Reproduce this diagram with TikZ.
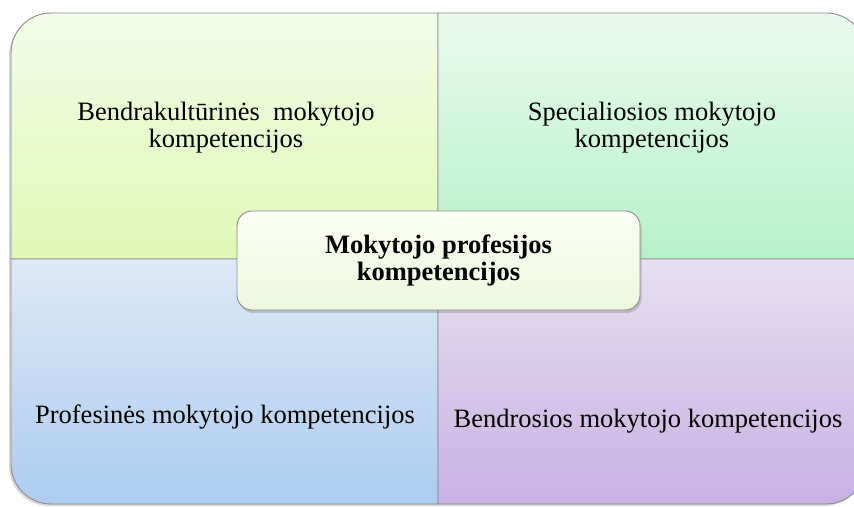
\documentclass[tikz,border=0pt]{standalone}
\usepackage{fontspec}
\setmainfont{Liberation Serif}
\usetikzlibrary{shadows}
\definecolor{tlTop}{HTML}{F3FCE8}
\definecolor{tlBot}{HTML}{E0F7B6}
\definecolor{trTop}{HTML}{E9FAEE}
\definecolor{trBot}{HTML}{B7F1C8}
\definecolor{blTop}{HTML}{DDE9F7}
\definecolor{blBot}{HTML}{ADCCEE}
\definecolor{brTop}{HTML}{E7DFF3}
\definecolor{brBot}{HTML}{C8B1E2}
\definecolor{cTop}{HTML}{FBFEF4}
\definecolor{cBot}{HTML}{EEF8DE}
\definecolor{edge}{HTML}{8C8C8C}
\tikzset{
  quad/.style={draw=edge, line width=0.9pt},
  lbl/.style={font=\fontsize{26.5}{27}\selectfont, align=center, inner sep=0pt, text=black},
  centerbox/.style={draw=edge, line width=0.9pt, rounded corners=15pt, top color=cTop, bottom color=cBot,
     minimum width=403pt, minimum height=99pt, inner sep=0pt,
     font=\bfseries\fontsize{26.5}{27}\selectfont, align=center,
     drop shadow={opacity=0.35, shadow xshift=1.5pt, shadow yshift=-3pt, fill=gray}},
}
\begin{document}
\begin{tikzpicture}[x=1pt,y=1pt]
\clip (0,0) rectangle (854,506);
\fill[white] (0,0) rectangle (854,506);
% outer shadow
\fill[gray, opacity=0.30] (9,43) -- (9,451) arc[start angle=180,end angle=90,radius=40] -- (824,491)
   arc[start angle=90,end angle=0,radius=40] -- (864,40) arc[start angle=0,end angle=-90,radius=40]
   -- (49,0) arc[start angle=270,end angle=180,radius=40] -- cycle;
% quadrants
\path[quad, top color=tlTop, bottom color=tlBot] (11,247) -- (11,453) arc[start angle=180,end angle=90,radius=40] -- (438,493) -- (438,247) -- cycle;
\path[quad, top color=trTop, bottom color=trBot] (438,247) -- (438,493) -- (826,493) arc[start angle=90,end angle=0,radius=40] -- (866,247) -- cycle;
\path[quad, top color=blTop, bottom color=blBot] (11,247) -- (11,42) arc[start angle=180,end angle=270,radius=40] -- (438,2) -- (438,247) -- cycle;
\path[quad, top color=brTop, bottom color=brBot] (438,247) -- (438,2) -- (826,2) arc[start angle=270,end angle=360,radius=40] -- (866,247) -- cycle;
% labels
\node[lbl] (tl) at (226,378.7) {Bendrakultūrinės\ \ mokytojo\\kompetencijos};
\node[lbl] (tr) at (652,378.7) {Specialiosios mokytojo\\kompetencijos};
\node[lbl, anchor=base] (bl) at (225,82) {Profesinės mokytojo kompetencijos};
\node[lbl, anchor=base] (br) at (648,78) {Bendrosios mokytojo kompetencijos};
% centre
\node[centerbox] (c) at (438.5,245.5) {Mokytojo profesijos\\kompetencijos};
\end{tikzpicture}
\end{document}
